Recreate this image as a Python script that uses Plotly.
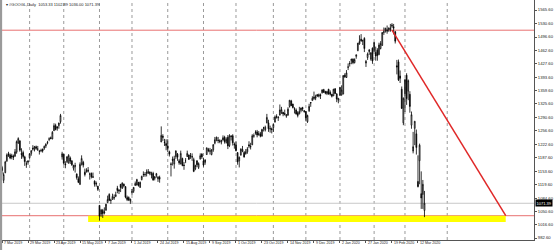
import pandas as pd
import plotly.graph_objects as go

# ---------------- data (GOOGL daily) ----------------
first_day = "2019-03-07"
last_day = "2020-03-18"
holidays = ["2019-04-19", "2019-05-27", "2019-07-04", "2019-09-02", "2019-11-28",
            "2019-12-25", "2020-01-01", "2020-01-20", "2020-02-17"]

opens = [
    1163, 1130, 1150, 1180, 1198, 1195, 1193, 1192, 1192, 1202, 1226, 1231, 1199, 1201, 1190, 1172, 1179,
    1188, 1199, 1212, 1210, 1216, 1210, 1204, 1206, 1210, 1212, 1218, 1225, 1235, 1239, 1236, 1257, 1270, 1267, 1270, 1280, 1190,
    1197, 1172, 1178, 1174, 1187, 1180, 1161, 1165, 1146, 1134, 1120, 1172, 1176, 1151, 1152, 1153, 1146, 1148, 1138, 1128, 1122, 1115,
    1066, 1044, 1053, 1047, 1054, 1073, 1094, 1079, 1082, 1085, 1089, 1110, 1105, 1120, 1110, 1120, 1114, 1086, 1086, 1077,
    1099, 1102, 1117, 1118, 1125, 1112, 1132, 1145, 1144, 1147, 1148, 1151, 1144, 1148, 1135, 1142, 1134, 1138, 1228, 1243, 1228, 1224,
    1218, 1203, 1172, 1184, 1172, 1191, 1197, 1180, 1172, 1186, 1169, 1180, 1191, 1195, 1193, 1189, 1183, 1160, 1180, 1163, 1185, 1198,
    1180, 1176, 1196, 1209, 1205, 1196, 1208, 1225, 1234, 1233, 1231, 1228, 1233, 1240, 1227, 1240, 1219, 1243, 1244, 1223,
    1221, 1201, 1180, 1195, 1205, 1201, 1198, 1203, 1221, 1215, 1221, 1243, 1252, 1254, 1249, 1249, 1243, 1264, 1259, 1277, 1277, 1262, 1262,
    1265, 1279, 1293, 1290, 1297, 1303, 1304, 1301, 1294, 1297, 1319, 1333, 1325, 1313, 1310, 1303, 1300, 1309, 1316, 1308,
    1306, 1280, 1308, 1329, 1334, 1339, 1340, 1349, 1345, 1349, 1354, 1362, 1357, 1352, 1363, 1355, 1350, 1346, 1364, 1351, 1335,
    1348, 1348, 1351, 1399, 1393, 1419, 1428, 1436, 1440, 1431, 1447, 1462, 1479, 1491, 1487, 1493, 1430, 1444, 1463, 1440, 1468,
    1462, 1457, 1463, 1452, 1467, 1475, 1510, 1513, 1511, 1515, 1515, 1524, 1523, 1510, 1423, 1433, 1397, 1363, 1277,
    1352, 1399, 1358, 1350, 1271, 1205, 1263, 1249, 1127, 1180, 1096, 1094, 1053,
]
highs = [
    1167, 1150, 1180, 1199, 1203, 1199, 1198, 1196, 1210, 1232, 1240, 1232, 1212, 1206, 1193, 1179, 1182,
    1199, 1207, 1220, 1218, 1219, 1218, 1208, 1211, 1211, 1219, 1225, 1231, 1240, 1242, 1256, 1276, 1275, 1268, 1277, 1300, 1203,
    1197, 1179, 1192, 1197, 1191, 1181, 1170, 1175, 1148, 1140, 1176, 1194, 1180, 1160, 1161, 1164, 1150, 1150, 1150, 1130, 1127, 1116,
    1067, 1057, 1057, 1061, 1070, 1091, 1097, 1083, 1096, 1094, 1101, 1116, 1108, 1120, 1125, 1122, 1115, 1091, 1089, 1083,
    1108, 1113, 1127, 1134, 1126, 1127, 1142, 1153, 1151, 1158, 1159, 1153, 1152, 1152, 1141, 1149, 1141, 1142, 1268, 1248, 1236, 1235,
    1235, 1206, 1176, 1191, 1193, 1207, 1200, 1185, 1206, 1188, 1177, 1187, 1206, 1196, 1200, 1199, 1188, 1170, 1181, 1176, 1199, 1198,
    1188, 1184, 1214, 1213, 1213, 1210, 1223, 1241, 1242, 1241, 1235, 1234, 1245, 1244, 1240, 1246, 1248, 1246, 1248, 1227,
    1229, 1202, 1191, 1212, 1218, 1205, 1210, 1215, 1230, 1226, 1248, 1250, 1258, 1259, 1256, 1254, 1262, 1267, 1270, 1300, 1285, 1270, 1265,
    1275, 1296, 1299, 1293, 1324, 1318, 1305, 1311, 1299, 1317, 1335, 1336, 1326, 1317, 1314, 1307, 1318, 1316, 1318, 1310,
    1307, 1298, 1326, 1330, 1345, 1357, 1349, 1351, 1352, 1352, 1363, 1364, 1359, 1359, 1364, 1360, 1351, 1364, 1366, 1353, 1340,
    1368, 1373, 1399, 1404, 1412, 1429, 1435, 1441, 1442, 1442, 1452, 1481, 1501, 1504, 1490, 1496, 1438, 1457, 1466, 1458, 1470,
    1483, 1472, 1468, 1482, 1486, 1509, 1521, 1520, 1526, 1520, 1530, 1532, 1530, 1512, 1438, 1439, 1411, 1370, 1342,
    1390, 1404, 1388, 1358, 1306, 1254, 1282, 1260, 1194, 1224, 1153, 1131, 1103,
]
lows = [
    1145, 1123, 1148, 1177, 1190, 1184, 1184, 1182, 1190, 1198, 1223, 1203, 1185, 1186, 1167, 1162, 1170,
    1185, 1193, 1206, 1204, 1208, 1205, 1196, 1202, 1201, 1208, 1213, 1222, 1230, 1235, 1235, 1256, 1258, 1257, 1262, 1275, 1183,
    1170, 1161, 1174, 1173, 1172, 1167, 1155, 1150, 1132, 1123, 1118, 1168, 1163, 1140, 1150, 1150, 1132, 1135, 1136, 1114, 1114, 1103,
    1027, 1037, 1034, 1043, 1052, 1073, 1077, 1070, 1080, 1080, 1087, 1097, 1095, 1100, 1108, 1112, 1084, 1077, 1077, 1070,
    1093, 1098, 1116, 1117, 1114, 1111, 1130, 1139, 1139, 1140, 1147, 1143, 1135, 1129, 1130, 1137, 1126, 1124, 1228, 1231, 1218, 1207,
    1202, 1191, 1140, 1168, 1160, 1185, 1180, 1170, 1171, 1166, 1157, 1174, 1190, 1182, 1185, 1180, 1151, 1156, 1164, 1159, 1183, 1185,
    1165, 1170, 1195, 1202, 1196, 1194, 1203, 1222, 1230, 1225, 1225, 1222, 1232, 1224, 1224, 1210, 1215, 1232, 1219, 1211,
    1204, 1170, 1163, 1193, 1202, 1188, 1196, 1198, 1212, 1209, 1220, 1239, 1247, 1240, 1244, 1240, 1242, 1255, 1255, 1276, 1254, 1252, 1250,
    1254, 1278, 1288, 1282, 1296, 1300, 1294, 1296, 1290, 1295, 1316, 1320, 1314, 1301, 1298, 1291, 1299, 1304, 1307, 1303,
    1281, 1277, 1305, 1318, 1334, 1336, 1335, 1343, 1342, 1338, 1352, 1354, 1350, 1348, 1349, 1347, 1342, 1346, 1351, 1330, 1327,
    1346, 1347, 1350, 1392, 1392, 1412, 1421, 1427, 1427, 1429, 1441, 1460, 1477, 1484, 1476, 1458, 1420, 1438, 1451, 1436, 1428,
    1458, 1436, 1436, 1450, 1465, 1474, 1502, 1508, 1505, 1510, 1510, 1520, 1503, 1480, 1401, 1384, 1379, 1313, 1271,
    1305, 1323, 1335, 1303, 1262, 1199, 1220, 1196, 1112, 1120, 1057, 1057, 1036,
]
closes = [
    1155, 1145, 1177, 1195, 1195, 1187, 1190, 1189, 1203, 1229, 1237, 1207, 1196, 1191, 1178, 1172, 1177,
    1198, 1206, 1210, 1216, 1212, 1210, 1204, 1206, 1205, 1217, 1222, 1227, 1236, 1237, 1253, 1270, 1260, 1264, 1277, 1296, 1198,
    1174, 1170, 1190, 1194, 1179, 1170, 1168, 1168, 1137, 1125, 1171, 1186, 1169, 1145, 1155, 1156, 1146, 1139, 1139, 1120, 1121, 1107,
    1038, 1054, 1045, 1049, 1069, 1081, 1079, 1079, 1089, 1086, 1093, 1104, 1103, 1112, 1123, 1116, 1087, 1081, 1080, 1082,
    1101, 1112, 1122, 1132, 1117, 1125, 1140, 1145, 1145, 1151, 1153, 1148, 1146, 1131, 1139, 1147, 1138, 1133, 1245, 1240, 1227, 1219,
    1212, 1197, 1171, 1181, 1185, 1205, 1189, 1175, 1199, 1168, 1168, 1180, 1199, 1184, 1192, 1191, 1153, 1168, 1170, 1173, 1193, 1190,
    1169, 1182, 1213, 1206, 1205, 1208, 1221, 1234, 1240, 1232, 1230, 1232, 1239, 1229, 1235, 1218, 1244, 1242, 1226, 1221,
    1206, 1177, 1189, 1210, 1209, 1190, 1203, 1210, 1218, 1217, 1244, 1244, 1253, 1246, 1248, 1243, 1260, 1264, 1266, 1291, 1262, 1262, 1260,
    1273, 1292, 1292, 1292, 1310, 1311, 1300, 1299, 1298, 1312, 1335, 1321, 1316, 1312, 1300, 1296, 1306, 1315, 1313, 1306,
    1290, 1296, 1319, 1328, 1340, 1343, 1344, 1346, 1349, 1347, 1361, 1355, 1353, 1357, 1351, 1350, 1345, 1363, 1352, 1338, 1340,
    1368, 1361, 1398, 1395, 1405, 1420, 1429, 1440, 1431, 1439, 1451, 1481, 1485, 1487, 1487, 1467, 1434, 1453, 1460, 1456, 1435,
    1483, 1448, 1449, 1476, 1480, 1508, 1509, 1519, 1515, 1520, 1520, 1527, 1519, 1486, 1420, 1387, 1391, 1314, 1340,
    1387, 1339, 1385, 1319, 1298, 1216, 1281, 1214, 1114, 1220, 1085, 1120, 1071.39,
]

price_ticks = [1565.60, 1530.60, 1496.60, 1462.60, 1427.60, 1393.60, 1359.60, 1325.60, 1290.60,
               1256.60, 1222.60, 1187.60, 1153.60, 1119.60, 1084.60, 1050.60, 1016.60, 982.60]
title_text = "#GOOGL,Daily  1053.33 1102.89 1036.00 1071.39"
last_price = 1071.39

# drawn objects on the chart
resistance_level = 1514.0
support_level = 1039.6
support_zone_low = 1023.5
support_zone_start = "2019-05-22"
trend_start = ("2020-02-19", 1514.0)
trend_end = ("2020-05-07", 1039.6)
future_grid_dates = ["2020-04-01"]
label_every = 16

# ---------------- build ----------------
dates = [d for d in pd.bdate_range(first_day, last_day) if d.strftime("%Y-%m-%d") not in holidays]
assert len(dates) == len(closes) == len(opens) == len(highs) == len(lows)
n = len(dates)
idx = list(range(n))


def bar_of(datestr):
    d = pd.Timestamp(datestr)
    if d <= dates[-1]:
        return min(i for i, x in enumerate(dates) if x >= d)
    return (n - 1) + (d - dates[-1]).days


fig = go.Figure()
fig.add_trace(go.Candlestick(
    x=idx, open=opens, high=highs, low=lows, close=closes,
    increasing=dict(line=dict(color="#000000", width=0.8), fillcolor="#ffffff"),
    decreasing=dict(line=dict(color="#000000", width=0.8), fillcolor="#000000"),
    whiskerwidth=0, hoverinfo="skip", showlegend=False,
))

shapes = []
# month grid (dotted verticals)
month_bars = [i for i in range(1, n) if dates[i].month != dates[i - 1].month]
month_bars += [bar_of(d) for d in future_grid_dates]
for b in month_bars:
    shapes.append(dict(type="line", xref="x", yref="paper", x0=b, x1=b, y0=0, y1=1,
                       line=dict(color="#9a9a9a", width=1, dash="dot"), layer="below"))
# support zone
shapes.append(dict(type="rect", xref="x", yref="y", x0=bar_of(support_zone_start),
                   x1=bar_of(trend_end[0]), y0=support_zone_low, y1=support_level,
                   fillcolor="#ffff00", line=dict(width=0), layer="below"))
# horizontal levels
shapes.append(dict(type="line", xref="paper", yref="y", x0=0, x1=1, y0=resistance_level,
                   y1=resistance_level, line=dict(color="#e87070", width=1), layer="below"))
shapes.append(dict(type="line", xref="paper", yref="y", x0=0, x1=1, y0=support_level,
                   y1=support_level, line=dict(color="#e87070", width=1), layer="below"))
shapes.append(dict(type="line", xref="paper", yref="y", x0=0, x1=1, y0=last_price,
                   y1=last_price, line=dict(color="#c8c8c8", width=1), layer="below"))
# trend line
shapes.append(dict(type="line", xref="x", yref="y", x0=bar_of(trend_start[0]), y0=trend_start[1],
                   x1=bar_of(trend_end[0]), y1=trend_end[1],
                   line=dict(color="#e02828", width=1.5)))
# left window border
shapes.append(dict(type="rect", xref="paper", yref="paper", x0=-0.001, x1=0.004, y0=-0.05, y1=1,
                   fillcolor="#9a9a9a", line=dict(width=0)))

annotations = []
tick_bars = list(range(0, n, label_every))
for b in tick_bars:
    annotations.append(dict(x=b, y=0, xref="x", yref="paper", yshift=-3,
                            text=f"{dates[b].day} {dates[b].strftime('%b %Y')}",
                            showarrow=False, xanchor="left", yanchor="middle",
                            font=dict(size=3.6, color="#222", family="Liberation Sans")))
annotations.append(dict(x=0.008, y=1, xref="paper", yref="paper", yshift=-4, text="\u25be " + title_text,
                        showarrow=False, xanchor="left", yanchor="middle",
                        font=dict(size=4, color="#222", family="Liberation Sans")))
annotations.append(dict(x=1, y=last_price, xref="paper", yref="y", xshift=1,
                        text=f"{last_price:.2f}", showarrow=False, xanchor="left", yanchor="middle",
                        bgcolor="#000000", borderpad=0.5,
                        font=dict(size=4, color="#ffffff", family="Liberation Sans")))

fig.update_layout(
    width=555, height=250,
    margin=dict(l=0, r=21, t=0, b=10),
    paper_bgcolor="#ffffff", plot_bgcolor="#ffffff",
    shapes=shapes, annotations=annotations,
    xaxis=dict(range=[-1.23, 327.4], showgrid=False, zeroline=False, showline=True,
               linecolor="#555555", linewidth=1, tickvals=tick_bars, ticks="outside",
               ticklen=1.5, tickcolor="#555555", showticklabels=False,
               rangeslider=dict(visible=False), fixedrange=True),
    yaxis=dict(range=[977.5, 1591.2], side="right", showgrid=False, zeroline=False,
               showline=True, linecolor="#555555", linewidth=1, mirror=False,
               tickvals=price_ticks, ticktext=[f"{v:.2f}" for v in price_ticks],
               ticks="outside", ticklen=2, tickcolor="#555555",
               tickfont=dict(size=4.2, color="#222", family="Liberation Sans"),
               fixedrange=True),
)

fig.write_html("out.html")
